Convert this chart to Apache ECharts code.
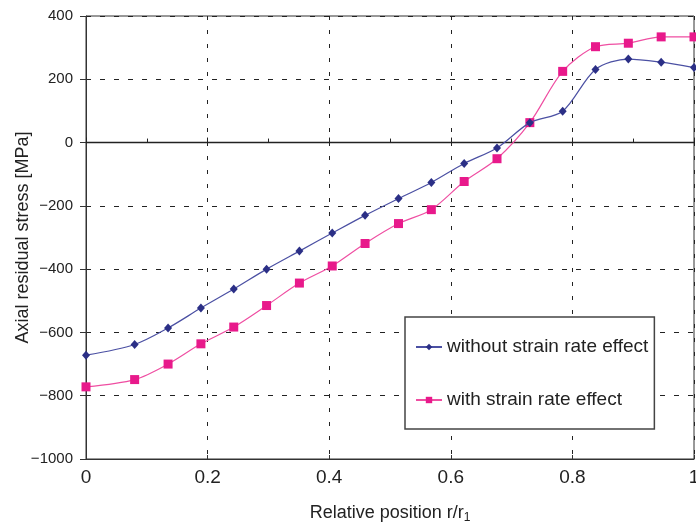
<!DOCTYPE html>
<html>
<head>
<meta charset="utf-8">
<script src="https://cdn.jsdelivr.net/npm/echarts@6/dist/echarts.min.js"></script>
<style>
html,body{margin:0;padding:0;background:#fff;}
#chart{width:696px;height:525px;}
</style>
</head>
<body>
<div id="chart"></div>
<script>
// Data
const positions = [0, 0.08, 0.135, 0.189, 0.243, 0.297, 0.351, 0.405, 0.459, 0.514, 0.568, 0.622, 0.676, 0.73, 0.784, 0.838, 0.892, 0.946, 1.0];
const withoutStrainRate = [-672, -638, -586, -523, -463, -400, -343, -286, -230, -177, -126, -66, -17, 63, 99, 231, 264, 254, 237];
const withStrainRate = [-772, -749, -700, -636, -583, -515, -444, -390, -319, -256, -212, -123, -51, 63, 225, 303, 314, 334, 334];
const seriesNames = ['without strain rate effect', 'with strain rate effect'];
const xTitle = 'Relative position r/r{s|1}';
const yTitle = 'Axial residual stress [MPa]';

const font = 'Liberation Sans, Arial, Helvetica, sans-serif';
const ink = '#222';

function pairs(xs, ys) { return xs.map((x, i) => [x, ys[i]]); }

const chart = echarts.init(document.getElementById('chart'), null, {renderer: 'canvas'});
chart.setOption({
  animation: false,
  backgroundColor: '#fff',
  textStyle: {fontFamily: font},
  grid: {left: 86, right: 2, top: 16, bottom: 66, show: true, borderColor: '#333', borderWidth: 1,
    backgroundColor: 'transparent', containLabel: false, outerBoundsMode: 'none'},
  legend: {
    orient: 'vertical',
    left: 405, top: 317,
    padding: [20, 6, 19, 10],
    itemGap: 33,
    itemWidth: 26, itemHeight: 8,
    itemTextGap: 5,
    backgroundColor: '#fff',
    borderColor: '#444', borderWidth: 1.5, borderRadius: 0,
    textStyle: {fontFamily: font, fontSize: 19, color: ink, lineHeight: 20},
    data: seriesNames
  },
  xAxis: [{
    type: 'value', position: 'bottom', min: 0, max: 1, interval: 0.2,
    axisLine: {onZero: false, lineStyle: {color: '#333', width: 1}},
    axisTick: {show: true, inside: true, length: 4, lineStyle: {color: '#333'}},
    axisLabel: {fontFamily: font, fontSize: 19, color: ink, margin: 9,
      formatter: v => (v === 0 || v === 1) ? String(v) : v.toFixed(1)},
    splitLine: {show: true, lineStyle: {color: '#222', width: 1, type: [4, 10]}},
    name: xTitle, nameLocation: 'middle', nameGap: 44, nameMoveOverlap: false,
    nameTextStyle: {fontFamily: font, fontSize: 18, color: ink,
      rich: {s: {fontFamily: font, fontSize: 12, color: ink, padding: [9, 0, 0, 0]}}}
  }, {
    type: 'value', position: 'bottom', min: 0, max: 1, interval: 0.2,
    axisLine: {show: true, onZero: true, lineStyle: {color: '#222', width: 1.3}},
    axisTick: {show: true, inside: true, length: 5, lineStyle: {color: '#222'}},
    minorTick: {show: true, splitNumber: 2, length: 4, lineStyle: {color: '#222'}},
    axisLabel: {show: false},
    splitLine: {show: false}
  }],
  yAxis: {
    type: 'value', min: -1000, max: 400, interval: 200,
    axisLine: {show: true, lineStyle: {color: '#333'}},
    axisTick: {show: true, inside: false, length: 6, lineStyle: {color: '#333'}},
    axisLabel: {fontFamily: font, fontSize: 15, color: ink, margin: 13,
      formatter: v => String(v).replace('-', '\u2212')},
    splitLine: {show: true, lineStyle: {color: '#222', width: 1, type: [5, 9]}},
    name: yTitle, nameLocation: 'middle', nameGap: 54, nameMoveOverlap: false,
    nameTextStyle: {fontFamily: font, fontSize: 18, color: ink}
  },
  series: [{
    name: seriesNames[0], type: 'line', xAxisIndex: 0,
    data: pairs(positions, withoutStrainRate),
    smooth: 0.3,
    symbol: 'diamond', symbolSize: [8, 9],
    lineStyle: {color: '#4b50a3', width: 1.2},
    itemStyle: {color: '#2b2f86'},
    z: 3
  }, {
    name: seriesNames[1], type: 'line', xAxisIndex: 0,
    data: pairs(positions, withStrainRate),
    smooth: 0.3,
    symbol: 'rect', symbolSize: 9,
    lineStyle: {color: '#ef4ea2', width: 1.2},
    itemStyle: {color: '#e8198b'},
    z: 2
  }]
});
</script>
</body>
</html>
